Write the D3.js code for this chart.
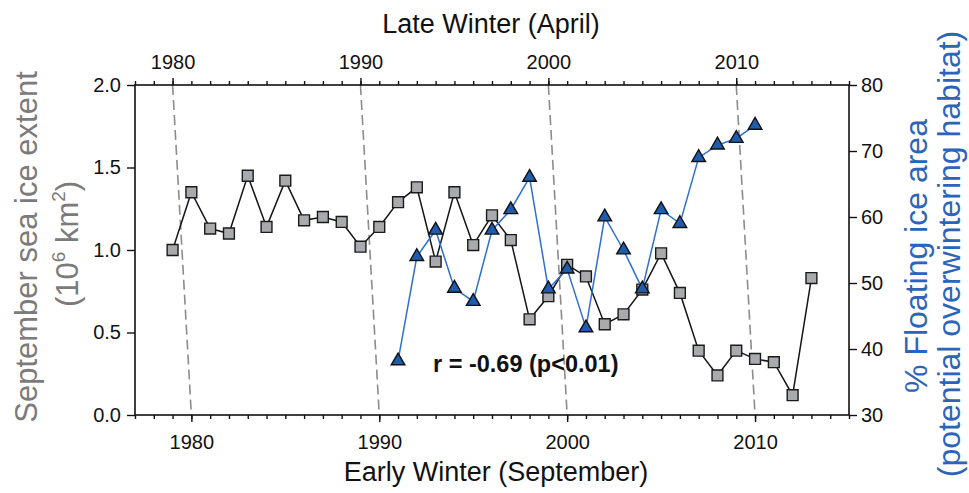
<!DOCTYPE html>
<html>
<head>
<meta charset="utf-8">
<script src="https://cdn.jsdelivr.net/npm/d3@7"></script>
<style>
  html, body { margin: 0; padding: 0; background: #ffffff; }
  svg { display: block; font-family: "Liberation Sans", Arial, sans-serif; }
</style>
</head>
<body>
<svg id="chart" width="969" height="493"></svg>
<script>
// ---- Data ----
const seaIceYears = [1979,1980,1981,1982,1983,1984,1985,1986,1987,1988,1989,1990,1991,1992,1993,1994,1995,1996,1997,1998,1999,2000,2001,2002,2003,2004,2005,2006,2007,2008,2009,2010,2011,2012,2013];
const seaIceExtent = [1.00,1.35,1.13,1.10,1.45,1.14,1.42,1.18,1.20,1.17,1.02,1.14,1.29,1.38,0.93,1.35,1.03,1.21,1.06,0.58,0.72,0.91,0.84,0.55,0.61,0.76,0.98,0.74,0.39,0.24,0.39,0.34,0.32,0.12,0.83];
// Late-winter (April) years, plotted on the top axis
const floatYears = [1992,1993,1994,1995,1996,1997,1998,1999,2000,2001,2002,2003,2004,2005,2006,2007,2008,2009,2010,2011];
const floatPct = [38.2,54.0,58.0,49.2,47.2,58.0,61.1,66.0,49.1,52.1,43.2,60.0,55.0,49.1,61.1,59.0,69.0,70.9,71.9,73.9];
const decadeTicks = [1980,1990,2000,2010];
const leftTicks = [0.0,0.5,1.0,1.5,2.0];
const rightTicks = [30,40,50,60,70,80];
const bottomDomain = [1977, 2015];
const topDomain = [1978, 2016];

// ---- Layout ----
const L = 135, R = 849, T = 85, B = 415;
const svg = d3.select("#chart");

const xB = d3.scaleLinear().domain(bottomDomain).range([L, R]);
const xT = d3.scaleLinear().domain(topDomain).range([L, R]);
const yL = d3.scaleLinear().domain([0, 2]).range([B, T]);
const yR = d3.scaleLinear().domain([30, 80]).range([B, T]);

const tickFont = "20px";

// dashed connector lines (same year on both axes)
svg.append("g").selectAll("line").data(decadeTicks).join("line")
  .attr("x1", d => xT(d)).attr("y1", T)
  .attr("x2", d => xB(d)).attr("y2", B)
  .attr("stroke", "#8c8c8c").attr("stroke-width", 1.6)
  .attr("stroke-dasharray", "10,5");

// axes
function styleAxis(g) {
  g.select(".domain").remove();
  g.selectAll("line").attr("stroke", "#111").attr("stroke-width", 1.4);
  g.selectAll("text").attr("fill", "#111").style("font-size", tickFont)
    .style("font-family", "'Liberation Sans', Arial, sans-serif");
}
const yearsB = d3.range(bottomDomain[0], bottomDomain[1] + 1);
const yearsT = d3.range(topDomain[0], topDomain[1] + 1);

svg.append("g").attr("transform", `translate(0,${B})`)
  .call(d3.axisBottom(xB).tickValues(yearsB).tickSize(4).tickFormat(""))
  .call(styleAxis);
svg.append("g").attr("transform", `translate(0,${B})`)
  .call(d3.axisBottom(xB).tickValues(decadeTicks).tickSize(7).tickPadding(13).tickFormat(d3.format("d")))
  .call(styleAxis);

svg.append("g").attr("transform", `translate(0,${T})`)
  .call(d3.axisTop(xT).tickValues(yearsT).tickSize(4).tickFormat(""))
  .call(styleAxis);
svg.append("g").attr("transform", `translate(0,${T})`)
  .call(d3.axisTop(xT).tickValues(decadeTicks).tickSize(7).tickPadding(9).tickFormat(d3.format("d")))
  .call(styleAxis);

svg.append("g").attr("transform", `translate(${L},0)`)
  .call(d3.axisLeft(yL).tickValues(leftTicks).tickSize(8).tickPadding(6).tickFormat(d3.format(".1f")))
  .call(styleAxis);
svg.append("g").attr("transform", `translate(${R},0)`)
  .call(d3.axisRight(yR).tickValues(rightTicks).tickSize(8).tickPadding(4).tickFormat(d3.format("d")))
  .call(styleAxis);

// frame
svg.append("rect").attr("x", L).attr("y", T).attr("width", R - L).attr("height", B - T)
  .attr("fill", "none").attr("stroke", "#111").attr("stroke-width", 1.6);

// sea ice series (squares)
const iceData = seaIceYears.map((y, i) => ({ x: y, v: seaIceExtent[i] }));
svg.append("path").datum(iceData)
  .attr("fill", "none").attr("stroke", "#151515").attr("stroke-width", 1.5)
  .attr("d", d3.line().x(d => xB(d.x)).y(d => yL(d.v)));
svg.append("g").selectAll("path").data(iceData).join("path")
  .attr("transform", d => `translate(${xB(d.x)},${yL(d.v)})`)
  .attr("d", d3.symbol(d3.symbolSquare, 118)())
  .attr("fill", "#a8aaad").attr("stroke", "#1a1a1a").attr("stroke-width", 1.4);

// floating ice series (triangles)
const floatData = floatYears.map((y, i) => ({ x: y, v: floatPct[i] }));
svg.append("path").datum(floatData)
  .attr("fill", "none").attr("stroke", "#2f6fd0").attr("stroke-width", 1.5)
  .attr("d", d3.line().x(d => xT(d.x)).y(d => yR(d.v)));
svg.append("g").selectAll("path").data(floatData).join("path")
  .attr("transform", d => `translate(${xT(d.x)},${yR(d.v)})`)
  .attr("d", d3.symbol(d3.symbolTriangle, 80)())
  .attr("fill", "#1f5cab").attr("stroke", "#111").attr("stroke-width", 1.4);

// titles
svg.append("text").attr("x", 491).attr("y", 33).attr("text-anchor", "middle")
  .style("font-size", "27px").attr("fill", "#111").text("Late Winter (April)");
svg.append("text").attr("x", 496).attr("y", 481).attr("text-anchor", "middle")
  .style("font-size", "27px").attr("fill", "#111").text("Early Winter (September)");

// annotation
svg.append("text").attr("x", 433).attr("y", 372)
  .style("font-size", "23.5px").style("font-weight", "bold").attr("fill", "#111")
  .text("r = -0.69 (p<0.01)");

// left axis title
const gray = "#7b7b7b";
svg.append("text").attr("transform", "translate(37,247) rotate(-90)")
  .attr("text-anchor", "middle").style("font-size", "31px").attr("fill", gray)
  .text("September sea ice extent");
const l2 = svg.append("text").attr("transform", "translate(78,244) rotate(-90)")
  .attr("text-anchor", "middle").style("font-size", "31px").attr("fill", gray);
l2.append("tspan").text("(10");
l2.append("tspan").attr("dy", -13).style("font-size", "19px").text("6");
l2.append("tspan").attr("dy", 13).text(" km");
l2.append("tspan").attr("dy", -13).style("font-size", "19px").text("2");
l2.append("tspan").attr("dy", 13).text(")");

// right axis title
const blue = "#2b65b9";
svg.append("text").attr("transform", "translate(927,256) rotate(-90)")
  .attr("text-anchor", "middle").style("font-size", "32px").attr("fill", blue)
  .text("% Floating ice area");
svg.append("text").attr("transform", "translate(960,254) rotate(-90)")
  .attr("text-anchor", "middle").style("font-size", "32px").attr("fill", blue)
  .text("(potential overwintering habitat)");
</script>
</body>
</html>
